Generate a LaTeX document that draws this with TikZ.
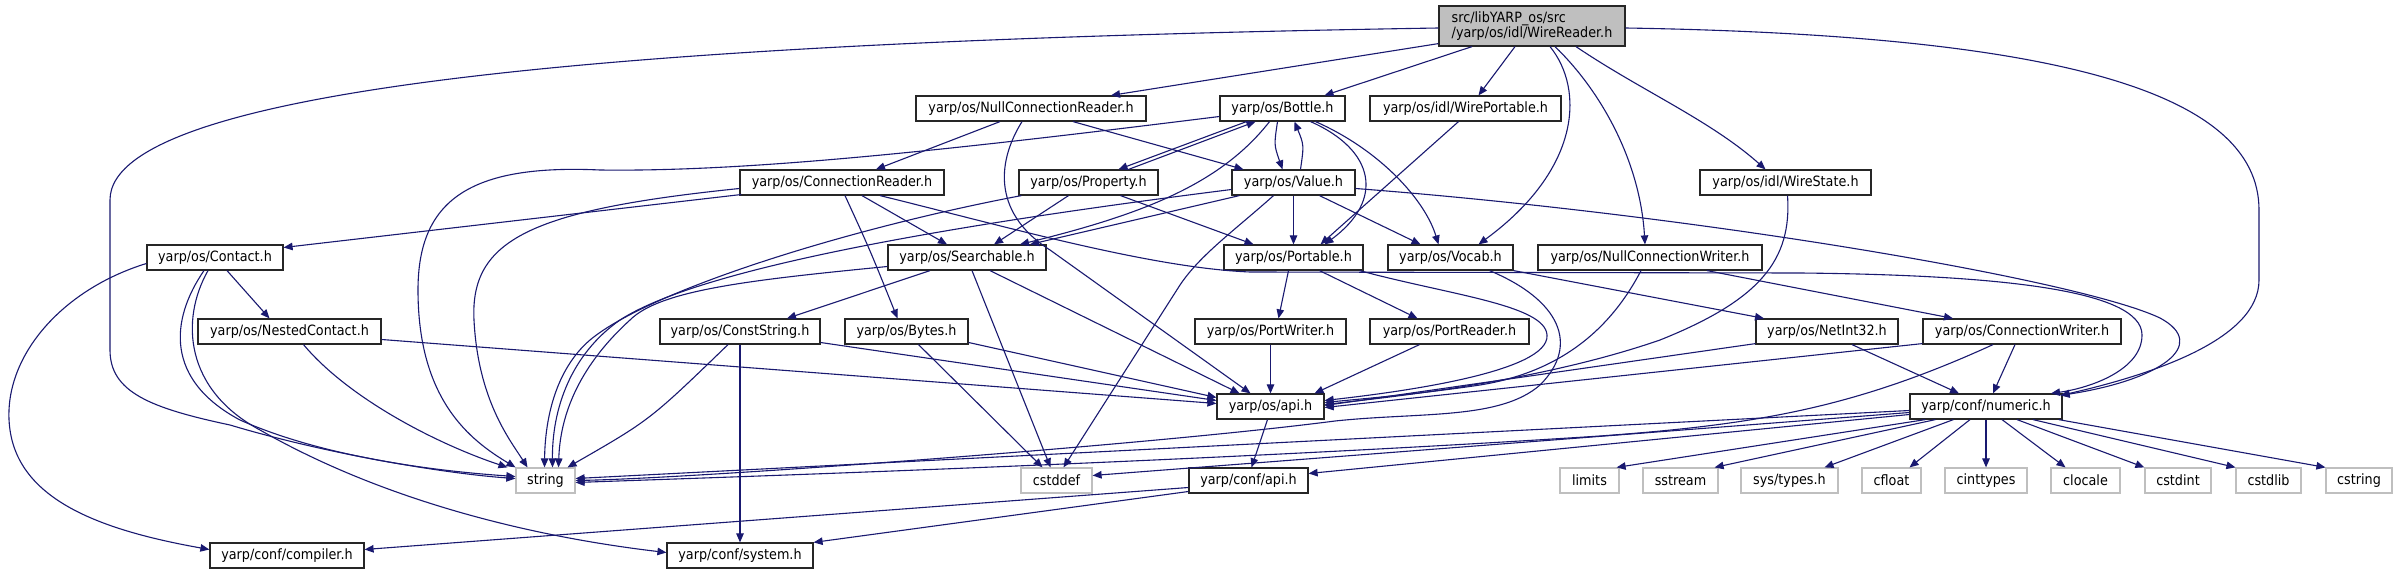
\documentclass[tikz,border=0pt]{standalone}
\usepackage{fontspec}
\setmainfont{DejaVu Sans}[FakeStretch=0.9]
\usetikzlibrary{arrows.meta,calc}
\definecolor{mblue}{HTML}{191970}
\definecolor{grey75}{HTML}{BFBFBF}
\begin{document}
\begin{tikzpicture}[x=1pt,y=-1pt,
  nb/.style={draw=black!85,line width=1.2pt,fill=white,minimum height=25pt,inner sep=0pt,font=\fontsize{14.2}{16}\selectfont},
  xb/.style={nb,draw=grey75},
  e/.style={draw=mblue,line width=1.1pt,-{Triangle[length=9pt,width=7.5pt,fill=mblue]}}]
\fill[white] (0,0) rectangle (2398,575);
\useasboundingbox (0,0) rectangle (2398,575);
% nodes
\node[nb,fill=grey75,minimum width=186pt,minimum height=40pt,align=left,font=\fontsize{14.2}{15.5}\selectfont] (wr) at (1532,26) {src/libYARP\_os/src\\/yarp/os/idl/WireReader.h};
\node[nb,minimum width=230pt] (ncr) at (1031,108.5) {yarp/os/NullConnectionReader.h};
\node[nb,minimum width=125pt] (bottle) at (1282.5,108.5) {yarp/os/Bottle.h};
\node[nb,minimum width=191pt] (wp) at (1465.5,108.5) {yarp/os/idl/WirePortable.h};
\node[nb,minimum width=204pt] (cr) at (842,182.5) {yarp/os/ConnectionReader.h};
\node[nb,minimum width=139pt] (prop) at (1088.5,182.5) {yarp/os/Property.h};
\node[nb,minimum width=123pt] (value) at (1293.5,182.5) {yarp/os/Value.h};
\node[nb,minimum width=171pt] (ws) at (1785.5,182.5) {yarp/os/idl/WireState.h};
\node[nb,minimum width=136pt] (contact) at (215,257.5) {yarp/os/Contact.h};
\node[nb,minimum width=158pt] (search) at (967,257.5) {yarp/os/Searchable.h};
\node[nb,minimum width=139pt] (portable) at (1293.5,257.5) {yarp/os/Portable.h};
\node[nb,minimum width=125pt] (vocab) at (1450.5,257.5) {yarp/os/Vocab.h};
\node[nb,minimum width=224pt] (ncw) at (1650,257.5) {yarp/os/NullConnectionWriter.h};
\node[nb,minimum width=183pt] (nested) at (289.5,331.5) {yarp/os/NestedContact.h};
\node[nb,minimum width=160pt] (cstr) at (740,331.5) {yarp/os/ConstString.h};
\node[nb,minimum width=123pt] (bytes) at (906.5,331.5) {yarp/os/Bytes.h};
\node[nb,minimum width=151pt] (pw) at (1270.5,331.5) {yarp/os/PortWriter.h};
\node[nb,minimum width=159pt] (pr) at (1449.5,331.5) {yarp/os/PortReader.h};
\node[nb,minimum width=142pt] (ni) at (1827,331.5) {yarp/os/NetInt32.h};
\node[nb,minimum width=198pt] (cw) at (2022,331.5) {yarp/os/ConnectionWriter.h};
\node[nb,minimum width=107pt] (osapi) at (1270.5,406.5) {yarp/os/api.h};
\node[nb,minimum width=152pt] (numeric) at (1986,406.5) {yarp/conf/numeric.h};
\node[xb,minimum width=59pt] (string) at (545.5,480.5) {string};
\node[xb,minimum width=71pt] (cstddef) at (1056.5,480.5) {cstddef};
\node[nb,minimum width=119pt] (confapi) at (1248.5,480.5) {yarp/conf/api.h};
\node[xb,minimum width=59pt] (limits) at (1589.5,480.5) {limits};
\node[xb,minimum width=75pt] (sstream) at (1680.5,480.5) {sstream};
\node[xb,minimum width=97pt] (systypes) at (1789.5,480.5) {sys/types.h};
\node[xb,minimum width=59pt] (cfloat) at (1891.5,480.5) {cfloat};
\node[xb,minimum width=82pt] (cinttypes) at (1986,480.5) {cinttypes};
\node[xb,minimum width=69pt] (clocale) at (2085.5,480.5) {clocale};
\node[xb,minimum width=66pt] (cstdint) at (2178,480.5) {cstdint};
\node[xb,minimum width=65pt] (cstdlib) at (2268.5,480.5) {cstdlib};
\node[xb,minimum width=66pt] (cstring) at (2359,480.5) {cstring};
\node[nb,minimum width=154pt] (compiler) at (287,555.5) {yarp/conf/compiler.h};
\node[nb,minimum width=146pt] (system) at (740,555.5) {yarp/conf/system.h};
% edges from WireReader
\draw[e] ($(wr.west)+(0,2)$) .. controls (700,40) and (110,80) .. (110,200) -- (110,350) .. controls (110,392) and (150,408) .. (230,425) .. controls (330,455) and (450,474) .. ($(string.west)+(0,-2)$);
\draw[e] ($(wr.south west)+(0,-3)$) -- ($(ncr.north)+(80,0)$);
\draw[e] ($(wr.south)+(-60,0)$) -- ($(bottle.north)+(42,0)$);
\draw[e] ($(wr.south)+(-17,0)$) -- ($(wp.north)+(13,0)$);
\draw[e] ($(wr.south)+(18,0)$) .. controls (1585,90) and (1580,170) .. ($(vocab.north)+(28,0)$);
\draw[e] ($(wr.south)+(23,0)$) .. controls (1600,90) and (1640,160) .. ($(ncw.north)+(-5,0)$);
\draw[e] ($(wr.south)+(44,0)$) .. controls (1640,90) and (1710,120) .. ($(ws.north)+(-20,0)$);
\draw[e] ($(wr.east)+(0,2)$) .. controls (2050,35) and (2259,90) .. (2259,210) -- (2259,280) .. controls (2259,340) and (2150,375) .. ($(numeric.north east)+(-2,2)$);
% NullConnectionReader
\draw[e] ($(ncr.south)+(-31,0)$) -- ($(cr.north)+(34,0)$);
\draw[e] ($(ncr.south)+(-9,0)$) .. controls (995,165) and (995,215) .. (1050,250) -- ($(osapi.north)+(-20,0)$);
\draw[e] ($(ncr.south)+(42,0)$) -- ($(value.north)+(-50,0)$);
% Bottle
\draw[e] ($(bottle.west)+(0,8)$) .. controls (950,150) and (750,172) .. (600,170) .. controls (470,164) and (418,200) .. (418,290) .. controls (418,400) and (470,440) .. ($(string.north)+(-30,0)$);
\draw[e] ($(bottle.south)+(-36,0)$) -- ($(prop.north)+(30,0)$);
\draw[e] ($(prop.north)+(40,0)$) -- ($(bottle.south)+(-27,0)$);
\draw[e] ($(bottle.south)+(-5,0)$) .. controls (1274,145) .. ($(value.north)+(-11,0)$);
\draw[e] ($(value.north)+(7,0)$) .. controls (1304,145) .. ($(bottle.south)+(12,0)$);
\draw[e] ($(bottle.south)+(-13,0)$) .. controls (1220,185) and (1140,215) .. ($(search.north)+(53,0)$);
\draw[e] ($(bottle.south)+(28,0)$) .. controls (1375,150) and (1385,200) .. ($(portable.north)+(31,0)$);
\draw[e] ($(bottle.south)+(33,0)$) .. controls (1380,150) and (1425,200) .. ($(vocab.north)+(-12,0)$);
% Property
\draw[e] ($(prop.south)+(-20,0)$) -- ($(search.north)+(27,0)$);
\draw[e] ($(prop.south)+(32,0)$) -- ($(portable.north)+(-40,0)$);
\draw[e] ($(prop.south west)+(3,0)$) .. controls (850,228) and (650,290) .. (590,340) .. controls (555,370) and (545,420) .. ($(string.north)+(-1,0)$);
% Value
\draw[e] ($(value.south west)+(8,0)$) -- ($(search.north)+(63,0)$);
\draw[e] ($(value.west)+(0,7)$) .. controls (950,225) and (700,268) .. (620,320) .. controls (570,355) and (552,410) .. ($(string.north)+(7,0)$);
\draw[e] (value.south) -- (portable.north);
\draw[e] ($(value.south)+(26,0)$) -- ($(vocab.north)+(-30,0)$);
\draw[e] ($(value.south)+(-20,0)$) .. controls (1235,230) and (1200,255) .. (1180,285) -- ($(cstddef.north)+(7,0)$);
\draw[e] ($(value.east)+(0,6)$) .. controls (1700,215) and (2080,280) .. (2160,318) .. controls (2210,345) and (2160,380) .. ($(numeric.north east)+(-2,2)$);
% ConnectionReader
\draw[e] ($(cr.west)+(2,12)$) -- ($(contact.east)+(0,-10)$);
\draw[e] ($(cr.south)+(20,0)$) -- ($(search.north)+(-20,0)$);
\draw[e] ($(cr.south)+(3,0)$) .. controls (870,250) .. ($(bytes.north)+(-9,0)$);
\draw[e] ($(cr.west)+(0,6)$) .. controls (530,210) and (470,240) .. (474,320) .. controls (478,400) and (510,440) .. ($(string.north)+(-18,0)$);
\draw[e] ($(cr.south)+(38,0)$) .. controls (1000,225) and (1150,268) .. (1250,272) -- (1800,273) .. controls (2000,275) and (2142,290) .. (2142,335) .. controls (2142,370) and (2090,388) .. ($(numeric.north)+(65,0)$);
% Contact
\draw[e] ($(contact.south)+(12,0)$) -- ($(nested.north)+(-20,0)$);
\draw[e] ($(contact.south)+(-11,0)$) .. controls (170,320) and (165,380) .. (240,420) .. controls (330,460) and (450,472) .. ($(string.west)+(0,-4)$);
\draw[e] ($(contact.south)+(-7,0)$) .. controls (180,320) and (185,390) .. (260,430) .. controls (400,510) and (560,540) .. ($(system.west)+(0,-3)$);
\draw[e] ($(contact.west)+(0,6)$) .. controls (60,290) and (0,360) .. (10,430) .. controls (20,500) and (100,530) .. ($(compiler.west)+(0,-6)$);
% NestedContact
\draw[e] ($(nested.south)+(14,0)$) .. controls (350,400) and (440,445) .. ($(string.north)+(-38,0)$);
\draw[e] ($(nested.east)+(0,8)$) -- ($(osapi.west)+(0,-3)$);
% Searchable
\draw[e] ($(search.south)+(-37,0)$) -- ($(cstr.north)+(47,0)$);
\draw[e] ($(search.west)+(0,9)$) .. controls (750,280) and (660,290) .. (630,320) .. controls (575,370) and (560,420) .. ($(string.north)+(13,0)$);
\draw[e] ($(search.south)+(5,0)$) -- ($(cstddef.north)+(-6,0)$);
\draw[e] ($(search.south)+(23,0)$) -- ($(osapi.north)+(-31,0)$);
% ConstString
\draw[e] ($(cstr.south)+(-12,0)$) .. controls (650,420) .. ($(string.north)+(22,0)$);
\draw[e] (cstr.south) -- (system.north);
\draw[e] ($(cstr.east)+(0,11)$) -- ($(osapi.west)+(0,-6)$);
% Bytes
\draw[e] ($(bytes.south)+(12,0)$) -- ($(cstddef.north)+(-14,0)$);
\draw[e] ($(bytes.east)+(0,11)$) -- ($(osapi.west)+(0,-9)$);
% Portable
\draw[e] ($(portable.south)+(-5,0)$) -- ($(pw.north)+(8,0)$);
\draw[e] ($(portable.south)+(26,0)$) -- ($(pr.north)+(-32,0)$);
\draw[e] ($(portable.south)+(66,0)$) .. controls (1450,295) and (1545,305) .. (1547,335) .. controls (1550,372) and (1400,392) .. ($(osapi.east)+(0,-6)$);
\draw[e] (pw.south) -- (osapi.north);
\draw[e] ($(pr.south)+(-30,0)$) -- ($(osapi.north)+(44,0)$);
% WirePortable
\draw[e] ($(wp.south)+(-7,0)$) -- ($(portable.north)+(27,0)$);
% Vocab
\draw[e] (vocab.south east) -- ($(ni.north)+(-63,0)$);
\draw[e] ($(vocab.south)+(39,0)$) .. controls (1560,300) and (1580,345) .. (1540,385) .. controls (1500,420) and (1420,412) .. (1335,421) .. controls (1150,445) and (700,478) .. (string.east);
% NullConnectionWriter, WireState
\draw[e] ($(ncw.south)+(-9,0)$) .. controls (1610,330) and (1560,372) .. (1480,385) .. controls (1420,394) and (1360,399) .. ($(osapi.east)+(0,-4)$);
\draw[e] ($(ncw.south)+(57,0)$) -- ($(cw.north)+(-69,0)$);
\draw[e] ($(ws.south)+(2,0)$) .. controls (1792,260) and (1760,300) .. (1660,340) .. controls (1550,378) and (1420,394) .. ($(osapi.east)+(0,-2)$);
% NetInt32, ConnectionWriter
\draw[e] ($(ni.south west)+(0,-1)$) -- ($(osapi.east)+(0,-1)$);
\draw[e] ($(ni.south)+(25,0)$) -- ($(numeric.north)+(-27,0)$);
\draw[e] ($(cw.south west)+(0,-1)$) -- ($(osapi.east)+(0,1)$);
\draw[e] ($(cw.south)+(-7,0)$) -- ($(numeric.north)+(7,0)$);
\draw[e] ($(cw.south)+(-29,0)$) .. controls (1850,410) and (1750,425) .. (1600,436) .. controls (1200,462) and (700,478) .. ($(string.east)+(0,2)$);
% api
\draw[e] ($(osapi.south)+(-3,0)$) -- ($(confapi.north)+(3,0)$);
% numeric
\draw[e] ($(numeric.west)+(0,8)$) -- ($(confapi.east)+(0,-7)$);
\draw[e] ($(numeric.west)+(0,6)$) -- ($(cstddef.east)+(0,-5)$);
\draw[e] ($(numeric.west)+(0,4)$) -- ($(string.east)+(0,-2)$);
\draw[e] ($(numeric.south west)+(16,0)$) -- ($(limits.north east)+(-3,0)$);
\draw[e] ($(numeric.south west)+(26,0)$) -- ($(sstream.north east)+(-4,0)$);
\draw[e] ($(numeric.south west)+(44,0)$) -- ($(systypes.north)+(35,0)$);
\draw[e] ($(numeric.south)+(-16,0)$) -- ($(cfloat.north)+(18,0)$);
\draw[e] (numeric.south) -- (cinttypes.north);
\draw[e] ($(numeric.south)+(16,0)$) -- ($(clocale.north)+(-20,0)$);
\draw[e] ($(numeric.south)+(31,0)$) -- (cstdint.north west);
\draw[e] ($(numeric.south)+(47,0)$) -- (cstdlib.north west);
\draw[e] ($(numeric.south east)+(-4,0)$) -- (cstring.north west);
% conf/api
\draw[e] ($(confapi.west)+(0,7)$) -- ($(compiler.east)+(0,-6)$);
\draw[e] ($(confapi.west)+(0,11)$) -- (system.north east);
\end{tikzpicture}
\end{document}
